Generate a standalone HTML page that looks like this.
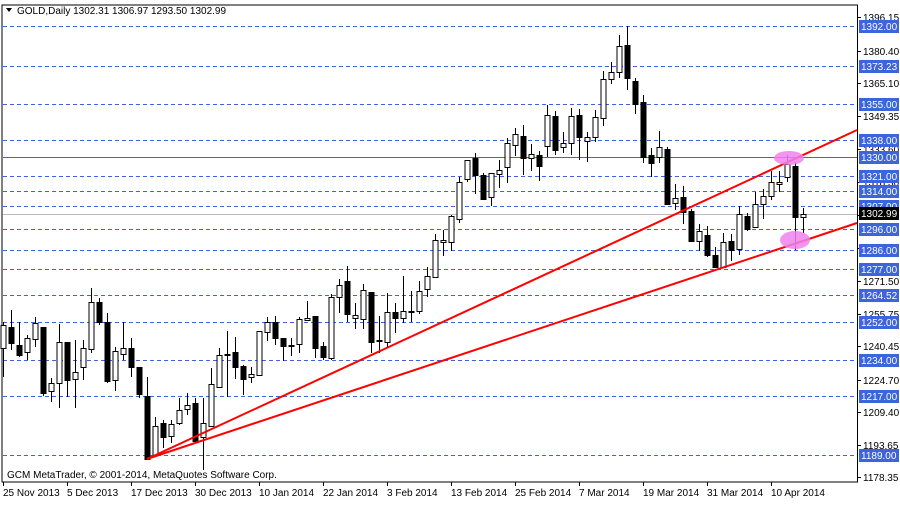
<!DOCTYPE html>
<html><head><meta charset="utf-8"><style>
body{margin:0;background:#fff;}
svg text{font-family:"Liberation Sans",sans-serif;font-size:10px;}
</style></head><body>
<svg id="s" width="900" height="500" xmlns="http://www.w3.org/2000/svg"></svg>
<script>
var d=[
[348,325,322,377],[327,343,310,350],[345,355,322,357],[352,338,335,360],[339,323,317,347],
[327,393,327,396],[391,383,378,402],[383,342,324,408],[342,380,342,397],[379,372,340,408],
[367,348,340,380],[349,302,288,353],[302,322,298,325],[322,381,313,383],[380,351,347,391],
[354,348,322,360],[348,367,338,377],[367,394,367,398],[396,459,377,460],[455,426,417,455],
[423,437,420,448],[436,424,420,443],[423,410,398,425],[409,405,393,415],[403,441,398,442],
[437,423,398,470],[426,384,368,426],[387,355,348,387],[354,354,331,397],[352,367,337,379],
[366,379,365,395],[377,374,367,383],[375,331,331,375],[332,322,317,341],[322,338,316,345],
[338,346,338,361],[345,345,338,356],[344,319,317,353],[320,318,301,320],[316,348,316,358],
[346,357,342,360],[358,297,294,360],[297,285,279,313],[281,314,266,322],[318,315,303,329],
[319,290,284,329],[292,342,292,353],[340,340,316,353],[342,312,293,347],[312,318,303,333],
[318,311,276,323],[311,311,291,322],[311,291,281,314],[289,276,267,297],[277,240,234,278],
[242,240,230,256],[242,216,215,251],[219,182,177,223],[179,160,160,182],[158,175,153,194],
[175,199,173,200],[197,173,173,206],[174,170,160,188],[167,143,138,183],[145,134,128,156],
[136,158,125,175],[158,154,144,171],[155,166,151,181],[146,115,105,157],[116,150,111,155],
[147,143,132,153],[143,116,108,155],[115,137,109,160],[141,137,132,162],[137,117,110,142],
[118,79,71,126],[79,72,62,84],[72,46,35,78],[45,78,26,90],[81,104,78,114],
[102,157,95,163],[155,163,148,177],[157,147,131,163],[149,204,147,204],[203,198,184,210],
[197,212,186,224],[211,241,209,242],[241,231,224,251],[235,255,226,257],[255,267,247,268],
[267,242,233,268],[241,250,234,261],[249,214,206,255],[216,229,213,231],[227,204,192,227],
[204,196,189,219],[196,182,171,200],[184,182,171,192],[177,164,155,182],[166,217,162,250],
[217,214,208,233]];
function Y(p){return 26+(1392-p)*2.113;}
var h='<rect x="2" y="5" width="855.5" height="477" fill="#fff" stroke="#000"/>';
var lv=[1392,1373.23,1355,1338,1321,1314,1307,1296,1286,1277,1264.52,1252,1234,1217,1189];
lv.forEach(function(p){var y=Math.round(Y(p))+0.5;h+='<line x1="3" x2="857" y1="'+y+'" y2="'+y+'" stroke="#3c64dc" stroke-dasharray="4,3"/>';});
h+='<line x1="3" x2="857" y1="157.5" y2="157.5" stroke="#3c64dc"/>';
h+='<line x1="3" x2="857" y1="214.5" y2="214.5" stroke="#bbb"/>';
d.forEach(function(c,k){var x=3+8*k+0.5;var o=c[0],cl=c[1];
h+='<line x1="'+x+'" x2="'+x+'" y1="'+c[2]+'" y2="'+c[3]+'" stroke="#000"/>';
var t=Math.min(o,cl),b=Math.max(o,cl);if(b-t<1)b=t+1;
h+='<rect x="'+(x-2.5)+'" y="'+(t+0.5)+'" width="5" height="'+(b-t)+'" fill="'+(cl<o?'#fff':'#000')+'" stroke="#000"/>';});
h+='<line x1="147" y1="459" x2="857" y2="130" stroke="#f00" stroke-width="2"/>';
h+='<line x1="147" y1="459" x2="857" y2="223" stroke="#f00" stroke-width="2"/>';
h+='<ellipse cx="789" cy="158" rx="15" ry="7" fill="#ee82ee" opacity="0.85"/>';
h+='<ellipse cx="795" cy="240" rx="15" ry="9" fill="#ee82ee" opacity="0.85"/>';
var tk=[1396.15,1380.40,1365.10,1349.35,1333.60,1318.30,1302.55,1286.80,1271.50,1255.75,1240.45,1224.70,1209.40,1193.65,1178.35];
tk.forEach(function(p){var y=Math.round(Y(p));h+='<line x1="857" x2="861" y1="'+(y+0.5)+'" y2="'+(y+0.5)+'" stroke="#000"/><text x="863" y="'+(y+4)+'">'+p.toFixed(2)+'</text>';});
lv.concat([1330]).forEach(function(p){var y=Math.round(Y(p));h+='<rect x="859" y="'+(y-6)+'" width="40" height="13" fill="#3c64dc"/><text x="861" y="'+(y+4)+'" fill="#fff">'+p.toFixed(2)+'</text>';});
h+='<rect x="859" y="207" width="40" height="13" fill="#000"/><text x="861" y="217" fill="#fff">1302.99</text>';
var xl=["25 Nov 2013","5 Dec 2013","17 Dec 2013","30 Dec 2013","10 Jan 2014","22 Jan 2014","3 Feb 2014","13 Feb 2014","25 Feb 2014","7 Mar 2014","19 Mar 2014","31 Mar 2014","10 Apr 2014"];
xl.forEach(function(s,i){var x=3+64*i;h+='<line x1="'+(x+0.5)+'" x2="'+(x+0.5)+'" y1="482" y2="486" stroke="#000"/><text x="'+x+'" y="496">'+s+'</text>';});
h+='<text x="7" y="478">GCM MetaTrader, © 2001-2014, MetaQuotes Software Corp.</text>';
h+='<polygon points="6,8 12,8 9,12" fill="#000"/><text x="17" y="14">GOLD,Daily  1302.31 1306.97 1293.50 1302.99</text>';
document.getElementById('s').innerHTML=h;
</script>
</body></html>
